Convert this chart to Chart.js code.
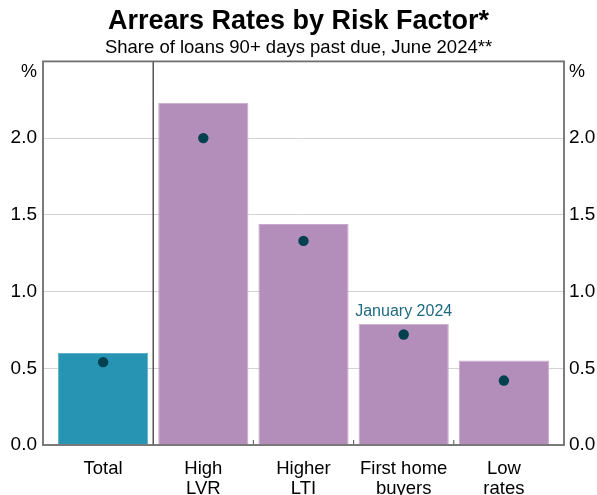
<!DOCTYPE html>
<html>
<head>
<meta charset="utf-8">
<title>Arrears Rates by Risk Factor</title>
<script src="https://cdn.jsdelivr.net/npm/chart.js@4/dist/chart.umd.min.js"></script>
<style>
    html, body { margin: 0; padding: 0; background: #fff; }
    #wrap { width: 597px; height: 495px; }
</style>
</head>
<body>
<div id="wrap"><canvas id="arrears" width="597" height="495"></canvas></div>
<script>
// Données du graphique
const categories = [['Total'], ['High', 'LVR'], ['Higher', 'LTI'], ['First home', 'buyers'], ['Low', 'rates']];
const june2024 = [0.60, 2.23, 1.44, 0.79, 0.55];
const january2024 = [0.54, 2.00, 1.33, 0.72, 0.42];
const yTicks = [0.0, 0.5, 1.0, 1.5, 2.0];
const yMax = 2.5;
const annotationText = 'January 2024';
const annotationIndex = 3;

const FONT = 'Arial, "Liberation Sans", Helvetica, sans-serif';
const PURPLE = '#b48eba';
const TEAL = '#2894b4';
const DOT = '#00404f';
const FRAME = '#6e6e6e';

/**
 * Cadre, séparateur, petites graduations, unités et annotation
 */
const decorPlugin = {
    id: 'decor',
    afterDatasetsDraw(chart) {
        const { ctx, chartArea: a, scales } = chart;
        const x = scales.x;
        const y = scales.y;
        ctx.save();

        // graduations entre catégories
        ctx.strokeStyle = FRAME;
        ctx.lineWidth = 1.2;
        for (let i = 1; i < categories.length - 1; i++) {
            const px = x.getPixelForValue(i + 0.5);
            ctx.beginPath();
            ctx.moveTo(px, a.bottom);
            ctx.lineTo(px, a.bottom - 5);
            ctx.stroke();
        }

        // séparateur après "Total"
        ctx.strokeStyle = '#4a4a4a';
        ctx.lineWidth = 1.4;
        const sep = x.getPixelForValue(0.5);
        ctx.beginPath();
        ctx.moveTo(sep, a.top);
        ctx.lineTo(sep, a.bottom);
        ctx.stroke();

        // cadre
        ctx.strokeStyle = FRAME;
        ctx.lineWidth = 1.8;
        ctx.strokeRect(a.left, a.top, a.right - a.left, a.bottom - a.top);

        // unités
        ctx.fillStyle = '#000';
        ctx.font = '18px ' + FONT;
        ctx.textBaseline = 'middle';
        ctx.textAlign = 'right';
        ctx.fillText('%', a.left - 6, a.top + 11);
        ctx.textAlign = 'left';
        ctx.fillText('%', a.right + 5, a.top + 11);

        // annotation
        ctx.fillStyle = '#1f6a80';
        ctx.font = '16px ' + FONT;
        ctx.textAlign = 'center';
        ctx.textBaseline = 'alphabetic';
        ctx.fillText(annotationText,
            x.getPixelForValue(annotationIndex),
            y.getPixelForValue(june2024[annotationIndex]) - 8);

        ctx.restore();
    }
};

function createArrearsChart(canvasId) {
    const ctx = document.getElementById(canvasId).getContext('2d');

    const yScale = (position, padding, width) => ({
        type: 'linear',
        position: position,
        min: 0,
        max: yMax,
        afterBuildTicks: (scale) => {
            scale.ticks = yTicks.map(v => ({ value: v })).concat([{ value: yMax }]);
        },
        afterFit: (scale) => { scale.width = width; },
        grid: {
            display: position === 'left',
            color: '#d3d3d3',
            lineWidth: 1,
            drawTicks: false
        },
        border: { display: false },
        ticks: {
            padding: padding,
            color: '#000',
            font: { family: FONT, size: 19 },
            callback: (v) => (v === yMax ? '' : v.toFixed(1))
        }
    });

    return new Chart(ctx, {
        type: 'bar',
        data: {
            datasets: [{
                label: 'June 2024',
                data: june2024.map((v, i) => ({ x: i, y: v })),
                backgroundColor: june2024.map((v, i) => (i === 0 ? TEAL : PURPLE)),
                borderColor: june2024.map((v, i) => (i === 0 ? '#5fb0c9' : '#c7aacb')),
                borderWidth: 1,
                barPercentage: 0.9,
                categoryPercentage: 1,
                order: 2
            }, {
                type: 'line',
                label: 'January 2024',
                data: january2024.map((v, i) => ({ x: i, y: v })),
                showLine: false,
                pointRadius: 5.2,
                pointBackgroundColor: DOT,
                pointBorderWidth: 0,
                order: 1
            }]
        },
        options: {
            responsive: false,
            animation: false,
            layout: { padding: 0 },
            plugins: {
                legend: { display: false },
                tooltip: { enabled: false },
                title: {
                    display: true,
                    text: 'Arrears Rates by Risk Factor*',
                    color: '#000',
                    font: { family: FONT, size: 27, weight: 'bold', lineHeight: 1.1 },
                    padding: { top: 7, bottom: 0 }
                },
                subtitle: {
                    display: true,
                    text: 'Share of loans 90+ days past due, June 2024**',
                    color: '#000',
                    font: { family: FONT, size: 18.5, lineHeight: 1.2 },
                    padding: { top: 0, bottom: 2.5 }
                }
            },
            scales: {
                x: {
                    type: 'linear',
                    offset: false,
                    min: -0.6,
                    max: categories.length - 0.4,
                    afterBuildTicks: (scale) => {
                        scale.ticks = categories.map((c, i) => ({ value: i }));
                    },
                    afterFit: (scale) => { scale.height = 50; },
                    grid: { display: false },
                    border: { display: false },
                    ticks: {
                        padding: 6,
                        maxRotation: 0,
                        autoSkip: false,
                        color: '#000',
                        font: { family: FONT, size: 18.5, lineHeight: 1.08 },
                        callback: (v) => categories[v]
                    }
                },
                y: yScale('left', 6, 43),
                y2: yScale('right', 5, 33)
            }
        },
        plugins: [decorPlugin]
    });
}

createArrearsChart('arrears');
</script>
</body>
</html>
